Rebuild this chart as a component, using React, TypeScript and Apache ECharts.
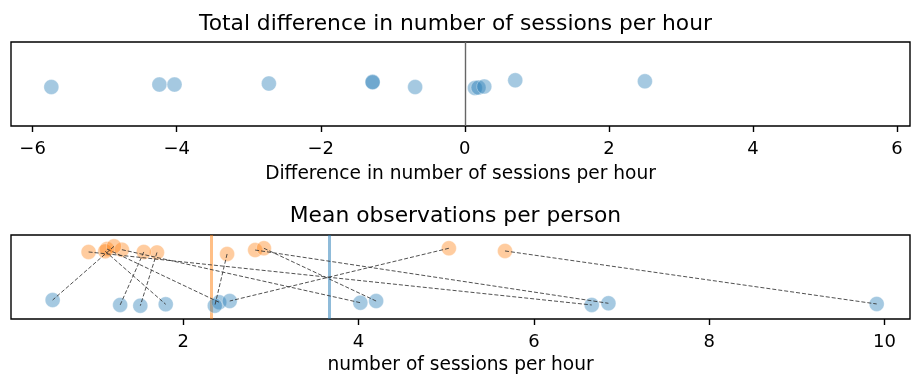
import React, { useEffect, useRef } from "react";
import * as echarts from "echarts";

// Paired observations (orange = second condition, blue = first condition)
const orangeX = [0.92, 5.67, 2.82, 1.3, 1.13, 2.92, 1.11, 2.5, 1.7, 1.55, 1.21, 5.03];
const blueX = [6.66, 9.91, 6.85, 4.02, 2.41, 4.2, 1.8, 2.36, 1.51, 1.28, 0.51, 2.53];
// strip-plot jitter (vertical position within each panel, 0..1)
const orangeJitter = [0.798, 0.81, 0.821, 0.825, 0.833, 0.842, 0.806, 0.774, 0.792, 0.798, 0.865, 0.842];
const blueJitter = [0.167, 0.179, 0.187, 0.194, 0.199, 0.214, 0.175, 0.158, 0.158, 0.167, 0.226, 0.214];
const diffJitter = [0.464, 0.493, 0.493, 0.505, 0.526, 0.52, 0.464, 0.452, 0.457, 0.469, 0.544, 0.532];

const topTicks = [-6, -4, -2, 0, 2, 4, 6];
const bottomTicks = [2, 4, 6, 8, 10];

const FONT = "DejaVu Sans";
const BLUE = "rgba(31,119,180,0.5)";
const ORANGE = "rgba(255,127,14,0.5)";

const fmt = (v: number) => String(v).replace("-", "\u2212");

export default function App() {
  const ref = useRef<HTMLDivElement>(null);
  useEffect(() => {
    if (!ref.current) return;
    const chart = echarts.init(ref.current, undefined, { renderer: "svg" });
    const diffs = orangeX.map((o, i) => +(o - blueX[i]).toFixed(3));
    const mean = (a: number[]) => a.reduce((s, v) => s + v, 0) / a.length;
    const axisCommon = {
      axisLine: { show: false },
      splitLine: { show: false },
      axisTick: { show: true, length: 6, lineStyle: { color: "#000", width: 1.4 } },
      axisLabel: { color: "#000", fontSize: 18, fontFamily: FONT, margin: 12, formatter: fmt },
      nameLocation: "middle" as const,
      nameTextStyle: { color: "#000", fontSize: 18.6, fontFamily: FONT },
    };
    const scatterStyle = (c: string) => ({ color: c, borderColor: "rgba(255,255,255,0.4)", borderWidth: 1 });
    chart.setOption({
      animation: false,
      title: [
        { text: "Total difference in number of sessions per hour", left: "center", top: 6,
          textStyle: { fontSize: 21.8, fontWeight: "normal", color: "#000", fontFamily: FONT } },
        { text: "Mean observations per person", left: "center", top: 198,
          textStyle: { fontSize: 21.8, fontWeight: "normal", color: "#000", fontFamily: FONT } },
      ],
      grid: [
        { left: 11, top: 42, width: 899, height: 84, show: true, borderColor: "#000", borderWidth: 1.4, containLabel: false },
        { left: 11, top: 235, width: 899, height: 84, show: true, borderColor: "#000", borderWidth: 1.4, containLabel: false },
      ],
      xAxis: [
        { ...axisCommon, gridIndex: 0, type: "value", min: -6.3, max: 6.18, nameGap: 37,
          name: "Difference in number of sessions per hour",
          axisTick: { ...axisCommon.axisTick, customValues: topTicks },
          axisLabel: { ...axisCommon.axisLabel, customValues: topTicks } },
        { ...axisCommon, gridIndex: 1, type: "value", min: 0.035, max: 10.29, nameGap: 35,
          name: "number of sessions per hour",
          axisTick: { ...axisCommon.axisTick, customValues: bottomTicks },
          axisLabel: { ...axisCommon.axisLabel, customValues: bottomTicks } },
      ],
      yAxis: [
        { gridIndex: 0, type: "value", min: 0, max: 1, show: false },
        { gridIndex: 1, type: "value", min: 0, max: 1, show: false },
      ],
      series: [
        {
          type: "scatter", xAxisIndex: 0, yAxisIndex: 0, symbolSize: 15, z: 3,
          itemStyle: scatterStyle(BLUE),
          data: diffs.map((d, i) => [d, diffJitter[i]]),
          markLine: {
            silent: true, symbol: "none", label: { show: false },
            lineStyle: { color: "#666", width: 1.4, type: "solid" },
            data: [{ xAxis: 0 }],
          },
        },
        {
          type: "scatter", xAxisIndex: 1, yAxisIndex: 1, symbolSize: 15, z: 3,
          itemStyle: scatterStyle(ORANGE),
          data: orangeX.map((x, i) => [x, orangeJitter[i]]),
          markLine: {
            silent: true, symbol: "none", label: { show: false }, z: 1,
            lineStyle: { color: ORANGE, width: 3, type: "solid" },
            data: [{ xAxis: mean(orangeX) }],
          },
        },
        {
          type: "scatter", xAxisIndex: 1, yAxisIndex: 1, symbolSize: 15, z: 3,
          itemStyle: scatterStyle(BLUE),
          data: blueX.map((x, i) => [x, blueJitter[i]]),
          markLine: {
            silent: true, symbol: "none", label: { show: false }, z: 1,
            lineStyle: { color: BLUE, width: 3, type: "solid" },
            data: [{ xAxis: mean(blueX) }],
          },
        },
        {
          type: "lines", coordinateSystem: "cartesian2d", xAxisIndex: 1, yAxisIndex: 1, z: 5,
          silent: true,
          lineStyle: { color: "#333", width: 1, type: [4, 2], opacity: 0.85 },
          data: orangeX.map((o, i) => ({ coords: [[o, orangeJitter[i]], [blueX[i], blueJitter[i]]] })),
        },
      ],
    });
    return () => chart.dispose();
  }, []);
  return <div ref={ref} style={{ position: "fixed", left: 0, top: 0, width: 911, height: 378 }} />;
}
